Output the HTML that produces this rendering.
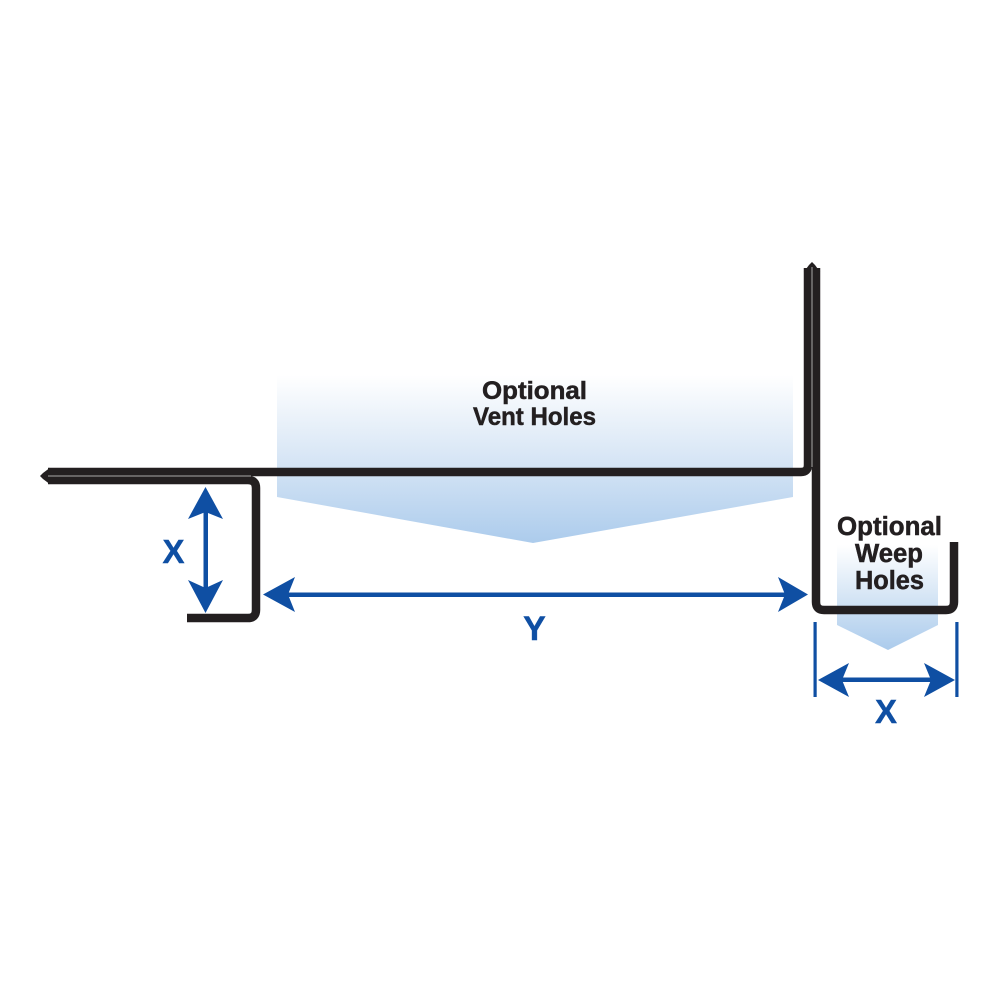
<!DOCTYPE html>
<html>
<head>
<meta charset="utf-8">
<style>
  html, body { margin: 0; padding: 0; background: #ffffff; }
  svg { display: block; }
</style>
</head>
<body>
<svg width="1000" height="1000" viewBox="0 0 1000 1000" xmlns="http://www.w3.org/2000/svg">
  <defs>
    <linearGradient id="gv" gradientUnits="userSpaceOnUse" x1="0" y1="375" x2="0" y2="545">
      <stop offset="0" stop-color="#ffffff"/>
      <stop offset="0.45" stop-color="#dbe8f6"/>
      <stop offset="1" stop-color="#abcbec"/>
    </linearGradient>
    <linearGradient id="gw" gradientUnits="userSpaceOnUse" x1="0" y1="545" x2="0" y2="650">
      <stop offset="0" stop-color="#ffffff"/>
      <stop offset="0.5" stop-color="#d5e5f5"/>
      <stop offset="1" stop-color="#abcbec"/>
    </linearGradient>
  </defs>
  <rect width="1000" height="1000" fill="#ffffff"/>

  <!-- blue gradient shapes -->
  <polygon points="277,375 793,375 793,497 533,543 277,497" fill="url(#gv)"/>
  <polygon points="837,545 938,545 938,625 888,650 837,625" fill="url(#gw)"/>

  <!-- black sheet -->
  <g fill="none" stroke="#231f20" stroke-width="8.5" stroke-linejoin="round">
    <path d="M808 268 L808 465 Q808 472 801 472 L48 472"/>
    <path d="M48 480 L248 480 Q256 480 256 488 L256 610 Q256 618 248 618 L187 618"/>
    <path d="M816 268 L816 602 Q816 610 824 610 L946 610 Q954 610 954 602 L954 542"/>
  </g>
  <polygon points="50,467.8 43,473 40,476 43,479 50,484.2" fill="#231f20"/>
  <polygon points="803.8,272 809,265 812,262 815,265 820.2,272" fill="#231f20"/>
  <line x1="48" y1="476" x2="251" y2="476" stroke="#a8a8a8" stroke-width="1"/>
  <line x1="812" y1="267" x2="812" y2="467" stroke="#a8a8a8" stroke-width="1"/>

  <!-- blue dimension arrows -->
  <g fill="#0f4fa3" stroke="none">
    <!-- left X vertical -->
    <rect x="203.5" y="508" width="4.5" height="84"/>
    <path d="M205.5 487 L223 519 L205.5 512 L188 519 Z"/>
    <path d="M205.5 613 L223 580 L205.5 588 L188 580 Z"/>
    <!-- Y horizontal -->
    <rect x="285" y="592.5" width="500" height="4.5"/>
    <path d="M263 594.5 L295 577 L288 594.5 L295 612 Z"/>
    <path d="M808 594.5 L778 577 L785 594.5 L778 612 Z"/>
    <!-- right X -->
    <rect x="813.5" y="622" width="3.2" height="75"/>
    <rect x="955.3" y="622" width="3.2" height="75"/>
    <rect x="840" y="677.5" width="92" height="4.5"/>
    <path d="M818 680 L849 663 L842 680 L849 697 Z"/>
    <path d="M955 680 L924 663 L931 680 L924 697 Z"/>
  </g>

  <!-- labels -->
  <g font-family="'Liberation Sans', Arial, sans-serif" font-weight="bold" text-anchor="middle">
    <g fill="#231f20" stroke="#231f20" stroke-width="0.5">
      <text x="534.5" y="399" font-size="25" textLength="105" lengthAdjust="spacingAndGlyphs">Optional</text>
      <text x="534.5" y="425" font-size="25" textLength="123" lengthAdjust="spacingAndGlyphs">Vent Holes</text>
      <text x="889.5" y="535" font-size="25.5" textLength="105" lengthAdjust="spacingAndGlyphs">Optional</text>
      <text x="889" y="562" font-size="25.5" textLength="68" lengthAdjust="spacingAndGlyphs">Weep</text>
      <text x="889.5" y="589" font-size="25.5" textLength="69" lengthAdjust="spacingAndGlyphs">Holes</text>
    </g>
    <g fill="#0f4fa3" stroke="#0f4fa3" stroke-width="0.4">
      <text x="173.5" y="563" font-size="33">X</text>
      <text x="534.5" y="640" font-size="34">Y</text>
      <text x="886" y="723" font-size="33">X</text>
    </g>
  </g>
</svg>
</body>
</html>
